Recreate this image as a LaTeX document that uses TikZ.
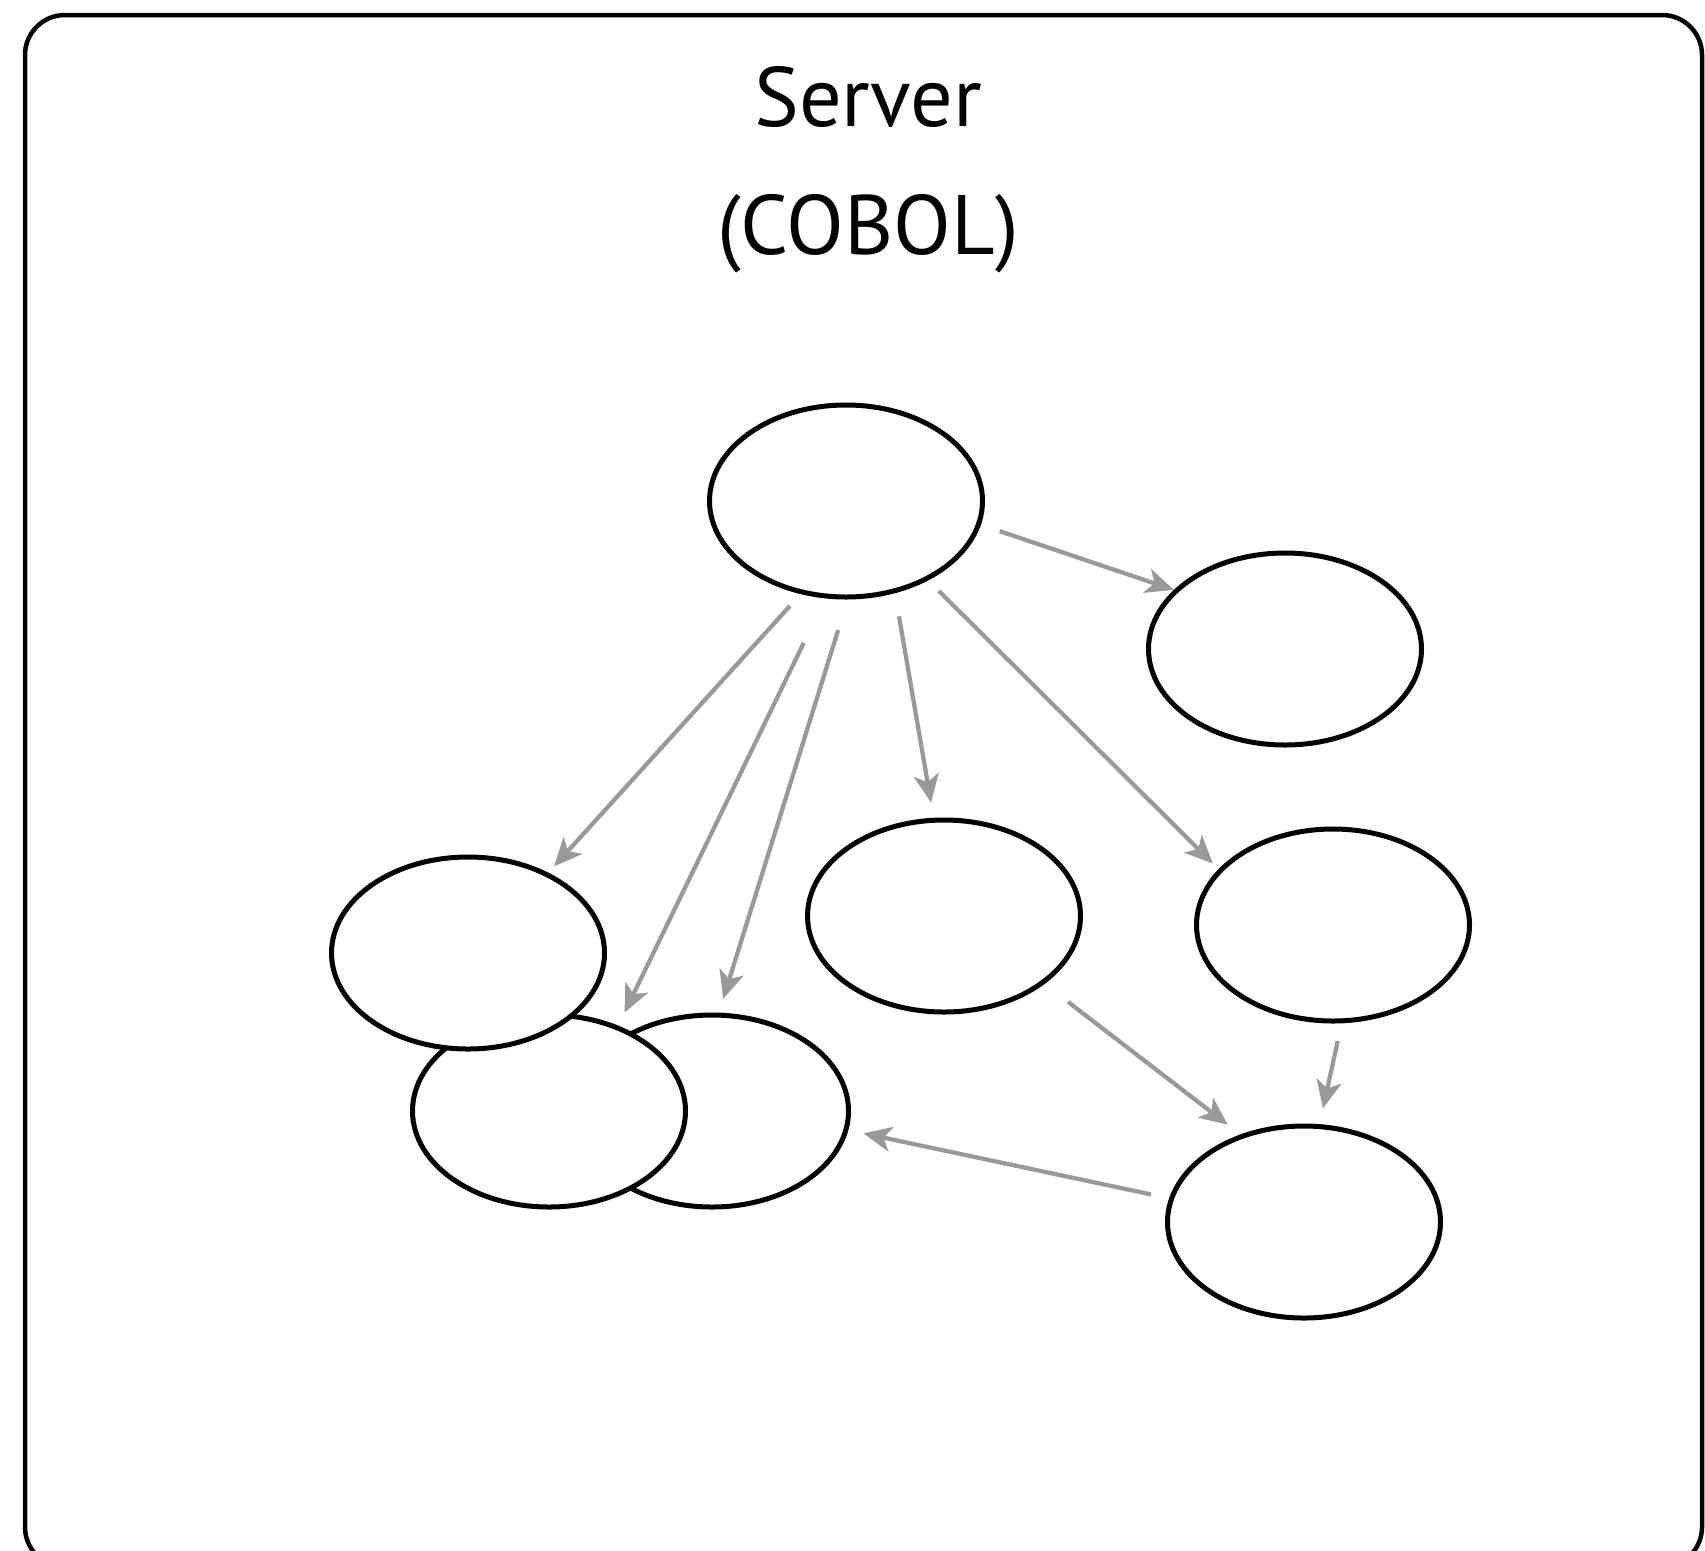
\documentclass[tikz,border=0pt]{standalone}
\usepackage{fontspec}
\usepackage{tikz}
\usetikzlibrary{shapes.geometric}
\usetikzlibrary{arrows.meta}
\newfontfamily\titlefont{PT Sans}
\definecolor{flowgray}{HTML}{999999}

\begin{document}
\begin{tikzpicture}[mod/.style={ellipse, draw, fill=white, line width=0.1cm, minimum width=5.46cm, minimum height=3.84cm, inner sep=0pt},
flow/.style={draw=flowgray, line width=0.085cm, -{Stealth[length=0.56cm,width=0.5cm,inset=0.15cm]}}]
\useasboundingbox (0,0) rectangle (34.1,-31);
\draw[line width=0.09cm, rounded corners=0.8cm] (0.5,-0.3) rectangle (34.04,-31.34);
\node (title) at (17.36,-3.4) [font=\titlefont\fontsize{48}{73}\selectfont, align=center] {Server\\(COBOL)};

% modules, back to front
\foreach \n/\x/\y in {m1/16.92/-10.02, m2/25.70/-12.98, m3/18.88/-18.32, m4/26.66/-18.50, m5/14.24/-22.22, m6/10.98/-22.22, m7/9.36/-19.06, m8/26.08/-24.44} {
\node (\n) at (\x,\y) [mod] {};
}

% calls
\foreach \a/\s/\b/\t/\ls/\lt in {m1/-10.3/m2/152.7/0.40/0, m1/-116/m7/45.9/0.32/0.17, m1/-102.2/m6/51.4/0.99/0.29, m1/-89.6/m5/86.1/0.64/0.29, m1/-62.7/m3/96.1/0.47/0.31, m1/-44.4/m4/154.8/0.30/0.16, m3/-34.5/m8/126.9/0.59/0.32, m4/-85.9/m8/81.7/0.36/0.32, m8/170.6/m5/-8.3/0.37/0.31} {
\draw[flow, shorten <=\ls cm, shorten >=\lt cm] (\a.\s) -- (\b.\t);
}
\end{tikzpicture}
\end{document}
